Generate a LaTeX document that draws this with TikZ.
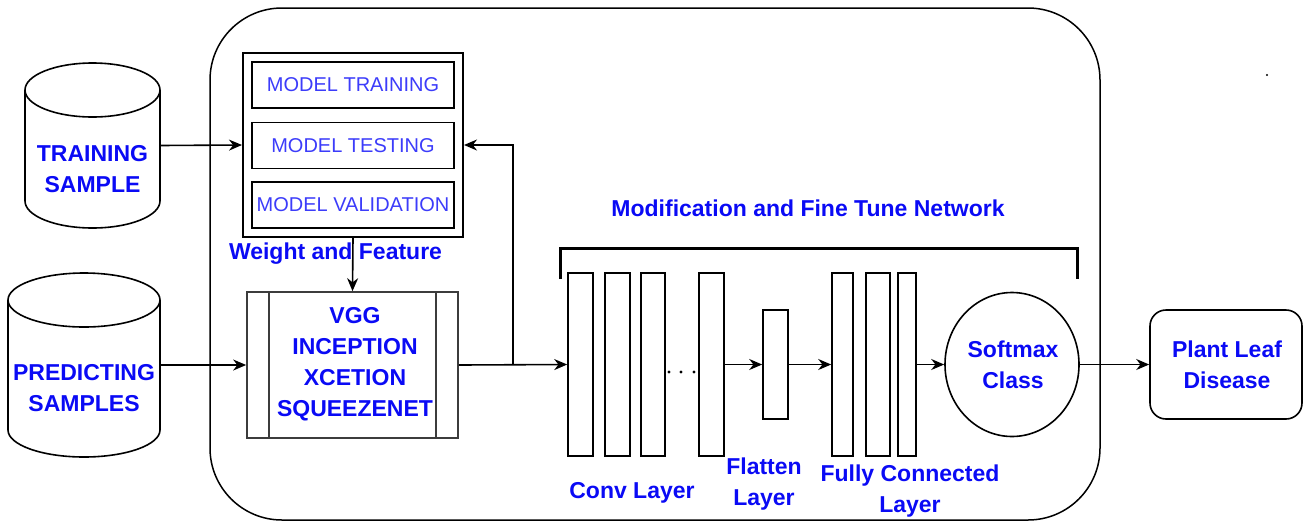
\documentclass[tikz,border=0pt]{standalone}
\usepackage{fontspec}
\setmainfont{Liberation Sans}
\usetikzlibrary{arrows.meta,shapes.geometric,calc}
\definecolor{txtblue}{RGB}{10,10,245}
\definecolor{lightblue}{RGB}{60,60,250}
\definecolor{edgegray}{RGB}{60,60,60}
\tikzset{
  lbl/.style={text=txtblue,font=\bfseries\fontsize{23}{31}\selectfont,align=center,inner sep=0pt},
  mlbl/.style={text=lightblue,font=\fontsize{20}{24}\selectfont,inner sep=0pt},
  box/.style={draw,line width=1.6pt,rectangle,inner sep=0pt},
  layerbox/.style={draw,line width=1.6pt,rectangle,inner sep=0pt,minimum height=183pt},
  conn/.style={line width=1.6pt,-{Stealth[length=13pt,width=11pt]}},
  plain/.style={line width=1.6pt},
}
\begin{document}
\begin{tikzpicture}[x=1pt,y=-1pt]
\useasboundingbox (0,0) rectangle (1303,523);
% outer rounded container
\draw[line width=1.5pt,rounded corners=72pt] (210,8) rectangle (1100,520);
% stray dot
\fill (1267,75) circle (1.2pt);

% cylinders
\draw[plain] (25,90) -- (25,201) arc[start angle=180,end angle=360,x radius=67.5pt,y radius=27pt] -- (160,90);
\draw[plain] (92.5,90) ellipse [x radius=67.5pt,y radius=27pt];
\node[inner sep=0pt,minimum width=135pt,minimum height=111pt] (ts) at (92.5,145.5) {};
\node[lbl] (tstxt) at (92.5,169.5) {TRAINING\\SAMPLE};

\draw[plain] (8,300) -- (8,430) arc[start angle=180,end angle=360,x radius=76pt,y radius=27pt] -- (160,300);
\draw[plain] (84,300) ellipse [x radius=76pt,y radius=27pt];
\node[inner sep=0pt,minimum width=152pt,minimum height=130pt] (ps) at (84,365) {};
\node[lbl] (pstxt) at (84,388.5) {PREDICTING\\SAMPLES};

% model box
\node[box,line width=2pt,minimum width=220pt,minimum height=184pt] (model) at (353,145) {};
\node[box,minimum width=202pt,minimum height=46pt] (mtrain) at (353,85) {};
\node[mlbl] at (mtrain) {MODEL TRAINING};
\node[box,minimum width=202pt,minimum height=46pt] (mtest) at (353,145.5) {};
\node[mlbl] at (mtest) {MODEL TESTING};
\node[box,minimum width=202pt,minimum height=46pt] (mval) at (353,205) {};
\node[mlbl] at (mval) {MODEL VALIDATION};

% VGG process box
\node[draw=edgegray,line width=1.7pt,rectangle,minimum width=211pt,minimum height=146pt,inner sep=0pt] (vgg) at (352.5,365) {};
\draw[edgegray,line width=1.7pt] (269,292) -- (269,438);
\draw[edgegray,line width=1.7pt] (436,292) -- (436,438);
\node[lbl] (vggtxt) at (355,364.5) {VGG\\INCEPTION\\XCETION\\SQUEEZENET};

% weight & feature
\node[lbl] (wf) at (335.5,254) {Weight and Feature};
\draw[conn] (model.south) -- (vgg.north);

% inputs
\draw[conn] (ts.east) -- (model.west);
\draw[conn] (ps.east) -- (vgg.west);

% layers
\node[layerbox,minimum width=25pt] (c1) at (580.5,364.5) {};
\node[layerbox,minimum width=25pt] (c2) at (617.5,364.5) {};
\node[layerbox,minimum width=24pt] (c3) at (653,364.5) {};
\node[layerbox,minimum width=25pt] (c4) at (711.5,364.5) {};
\node[box,minimum width=25pt,minimum height=109pt] (fl) at (775.5,364.5) {};
\node[layerbox,minimum width=21pt] (f1) at (842.5,364.5) {};
\node[layerbox,minimum width=24pt] (f2) at (878,364.5) {};
\node[layerbox,minimum width=18pt] (f3) at (907,364.5) {};
\node[draw,line width=1.6pt,ellipse,minimum width=134pt,minimum height=144pt,inner sep=0pt] (sm) at (1012,364.5) {};
\node[lbl] (smtxt) at (1013,365) {Softmax\\Class};
\node[draw,line width=1.6pt,rounded corners=16pt,minimum width=152pt,minimum height=109pt,inner sep=0pt] (out) at (1226,364.5) {};
\node[lbl] (outtxt) at (1227,365) {Plant Leaf\\Disease};

% dots
\foreach \xx in {669,681,694} \fill (\xx,372) circle (1.6pt);

% connectors
\coordinate (br) at (513,364.5);
\draw[conn] (vgg.east) -- (c1.west);
\draw[conn] (br) |- (model.east);
\draw[conn] (c4.east) -- (fl.west);
\draw[conn] (fl.east) -- (f1.west);
\draw[conn] (f3.east) -- (sm.west);
\draw[conn] (sm.east) -- (out.west);

% bracket
\draw[line width=3pt] (560,279) -- (560,248) -- (1077,248) -- (1077,279);
\node[lbl] (mod) at (808,208) {Modification and Fine Tune Network};

% layer labels
\node[lbl] (cl) at (632,493) {Conv Layer};
\node[lbl] (fll) at (764,484) {Flatten\\Layer};
\node[lbl] (fcl) at (910,491.5) {Fully Connected\\Layer};
\end{tikzpicture}
\end{document}
